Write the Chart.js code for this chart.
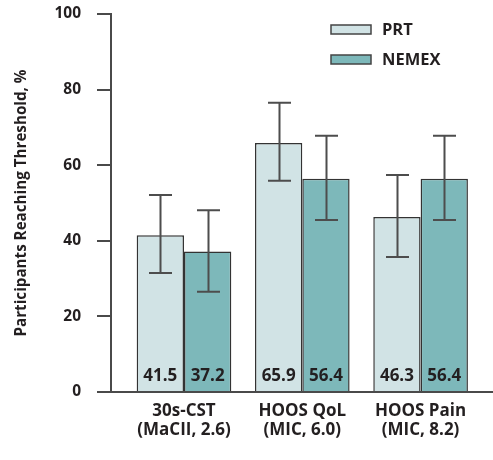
<!DOCTYPE html>
<html>
<head>
<meta charset="utf-8">
<script src="https://cdn.jsdelivr.net/npm/chart.js@4/dist/chart.umd.min.js"></script>
<style>
html,body{margin:0;padding:0;background:#fff;}
#wrap{width:493px;height:460px;}
</style>
</head>
<body>
<div id="wrap"><canvas id="c" width="493" height="460"></canvas></div>
<script>
const categories = [["30s-CST", "(MaCII, 2.6)"], ["HOOS QoL", "(MIC, 6.0)"], ["HOOS Pain", "(MIC, 8.2)"]];
const seriesNames = ["PRT", "NEMEX"];
const prtValues = [41.5, 65.9, 46.3];
const nemexValues = [37.2, 56.4, 56.4];
const prtLower = [31.5, 55.9, 35.7];
const prtUpper = [52.1, 76.5, 57.4];
const nemexLower = [26.5, 45.5, 45.5];
const nemexUpper = [48.1, 67.8, 67.8];
const yTickValues = [0, 20, 40, 60, 80, 100];
const yTitle = "Participants Reaching Threshold, %";

const FONT = "'Open Sans', 'Noto Sans', sans-serif";
const TEXT = "#231f20";
const AXIS = "#4a4a4a";
const COLORS = ["#d1e3e5", "#7db8ba"];

const errors = [
  {lower: prtLower, upper: prtUpper},
  {lower: nemexLower, upper: nemexUpper}
];

const errorBarPlugin = {
  id: 'errorBars',
  afterDatasetsDraw(chart) {
    const ctx = chart.ctx;
    const y = chart.scales.y;
    ctx.save();
    ctx.strokeStyle = "#4d4d4d";
    ctx.lineWidth = 2;
    chart.data.datasets.forEach((ds, di) => {
      const meta = chart.getDatasetMeta(di);
      meta.data.forEach((bar, i) => {
        const yl = y.getPixelForValue(errors[di].lower[i]);
        const yu = y.getPixelForValue(errors[di].upper[i]);
        const x = Math.round(bar.x) + 0.5;
        const cap = 11.5;
        ctx.beginPath();
        ctx.moveTo(x, yl); ctx.lineTo(x, yu);
        ctx.moveTo(x - cap, yu); ctx.lineTo(x + cap, yu);
        ctx.moveTo(x - cap, yl); ctx.lineTo(x + cap, yl);
        ctx.stroke();
      });
    });
    ctx.restore();
  }
};

const valueLabelPlugin = {
  id: 'valueLabels',
  afterDatasetsDraw(chart) {
    const ctx = chart.ctx;
    const y = chart.scales.y;
    ctx.save();
    ctx.fillStyle = TEXT;
    ctx.font = "bold 17px " + FONT;
    ctx.textAlign = "center";
    ctx.textBaseline = "alphabetic";
    chart.data.datasets.forEach((ds, di) => {
      const meta = chart.getDatasetMeta(di);
      meta.data.forEach((bar, i) => {
        ctx.fillText(ds.data[i].y.toFixed(1), bar.x, y.getPixelForValue(0) - 11);
      });
    });
    ctx.restore();
  }
};

const legendPlugin = {
  id: 'customLegend',
  afterDraw(chart) {
    const ctx = chart.ctx;
    ctx.save();
    chart.data.datasets.forEach((ds, di) => {
      const top = 25 + di * 30;
      ctx.fillStyle = ds.backgroundColor;
      ctx.fillRect(331, top, 40, 9);
      ctx.strokeStyle = "#444";
      ctx.lineWidth = 1.5;
      ctx.strokeRect(331, top, 40, 9);
      ctx.fillStyle = TEXT;
      ctx.font = "bold 16.5px " + FONT;
      ctx.textAlign = "left";
      ctx.textBaseline = "middle";
      ctx.fillText(ds.label, 382, top + 5);
    });
    ctx.restore();
  }
};

const makeData = (vals) => vals.map((v, i) => ({x: i + 1, y: v}));

new Chart(document.getElementById('c'), {
  type: 'bar',
  data: {
    datasets: [
      {label: seriesNames[0], data: makeData(prtValues), backgroundColor: COLORS[0], borderColor: "#333", borderWidth: 1.5},
      {label: seriesNames[1], data: makeData(nemexValues), backgroundColor: COLORS[1], borderColor: "#333", borderWidth: 1.5}
    ]
  },
  plugins: [errorBarPlugin, valueLabelPlugin, legendPlugin],
  options: {
    responsive: false,
    animation: false,
    devicePixelRatio: 1,
    layout: {padding: {top: 14, right: 0, bottom: 0, left: 0}},
    datasets: {bar: {categoryPercentage: 0.8, barPercentage: 1.0}},
    plugins: {legend: {display: false}, tooltip: {enabled: false}},
    scales: {
      x: {
        type: 'linear',
        offset: false,
        min: 0.383,
        max: 3.612,
        afterBuildTicks(scale) { scale.ticks = categories.map((c, i) => ({value: i + 1})); },
        afterFit(scale) { scale.height = 68; },
        grid: {display: false, drawTicks: false, offset: false},
        border: {display: true, color: AXIS, width: 2},
        ticks: {
          autoSkip: false, maxRotation: 0, padding: 10,
          color: TEXT,
          font: {family: FONT, size: 17, weight: 'bold', lineHeight: 1.1},
          callback: (v) => categories[Math.round(v) - 1]
        }
      },
      y: {
        min: 0, max: 100,
        afterBuildTicks(scale) { scale.ticks = yTickValues.map(v => ({value: v})); },
        afterFit(scale) { scale.width = 111; scale.paddingTop = 0; scale.paddingBottom = 0; },
        grid: {display: true, drawOnChartArea: false, drawTicks: true, tickLength: 14, color: AXIS, lineWidth: 2},
        border: {display: true, color: AXIS, width: 2},
        ticks: {padding: 16, color: TEXT, font: {family: FONT, size: 15.5, weight: 'bold'}},
        title: {display: true, text: yTitle, color: TEXT, padding: {top: 13, bottom: 0}, font: {family: FONT, size: 15.2, weight: 'bold'}}
      }
    }
  }
});
</script>
</body>
</html>
